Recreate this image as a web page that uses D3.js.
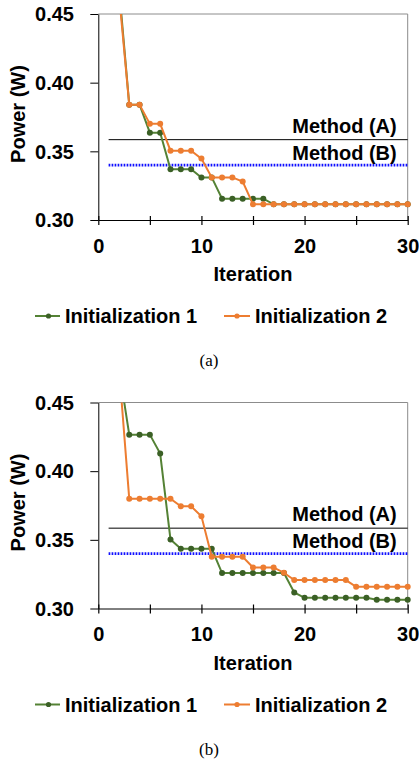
<!DOCTYPE html>
<html><head><meta charset="utf-8">
<script src="https://cdn.jsdelivr.net/npm/d3@7/dist/d3.min.js"></script>
<style>
html,body{margin:0;padding:0;background:#fff;}
svg{display:block;}
.bold{font-family:"Liberation Sans",Arial,Helvetica,sans-serif;font-weight:bold;fill:#000;}
</style></head>
<body>
<svg id="chart" width="419" height="761"></svg>
<script>
// ---- data ----
const iterations = [1,2,3,4,5,6,7,8,9,10,11,12,13,14,15,16,17,18,19,20,21,22,23,24,25,26,27,28,29,30];
const yTicks = [0.30, 0.35, 0.40, 0.45];
const xTicks = [0, 5, 10, 15, 20, 25, 30];
const xTickLabels = [0, 10, 20, 30];
const seriesNames = ["Initialization 1", "Initialization 2"];
const methodNames = ["Method (A)", "Method (B)"];
const methodValues = [0.3585, 0.340];
const panelCaptions = ["(a)", "(b)"];

const aInit1 = [0.52,0.47,0.384,0.384,0.3636,0.3636,0.337,0.337,0.337,0.331,0.331,0.3155,0.3155,0.3155,0.3155,0.3155,
  0.3114,0.3114,0.3114,0.3114,0.3114,0.3114,0.3114,0.3114,0.3114,0.3114,0.3114,0.3114,0.3114,0.3114];
const aInit2 = [0.52,0.465,0.384,0.384,0.370,0.370,0.3505,0.3505,0.3505,0.3447,0.331,0.331,0.331,0.328,0.3114,0.3114,
  0.3114,0.3114,0.3114,0.3114,0.3114,0.3114,0.3114,0.3114,0.3114,0.3114,0.3114,0.3114,0.3114,0.3114];
const bInit1 = [0.52,0.475,0.4266,0.4266,0.4266,0.4128,0.3503,0.3435,0.3435,0.3435,0.3435,0.3258,0.3258,0.3258,0.3258,
  0.3258,0.3258,0.3258,0.3117,0.3078,0.3078,0.3078,0.3078,0.3078,0.3078,0.3078,0.3063,0.3063,0.3063,0.3063];
const bInit2 = [0.52,0.476,0.380,0.380,0.380,0.380,0.380,0.3744,0.3744,0.3671,0.3377,0.3377,0.3377,0.3377,0.3299,
  0.3299,0.3299,0.326,0.3207,0.3207,0.3207,0.3207,0.3207,0.3207,0.3158,0.3158,0.3158,0.3158,0.3158,0.3158];

const lineColors = ["#548235", "#ED7D31"];
const dotColors = ["#3B6026", "#ED7D31"];

// ---- layout ----
const svg = d3.select("#chart");
const x = d3.scaleLinear().domain([0, 30]).range([98.3, 407.7]);
const y = d3.scaleLinear().domain([0.30, 0.45]).range([220, 14]);
const font = "20px";

svg.append("defs").append("clipPath").attr("id", "clip")
  .append("rect").attr("x", 0).attr("y", 14).attr("width", 419).attr("height", 220);

function drawPanel(offset, s1, s2, caption) {
  const g = svg.append("g").attr("transform", `translate(0,${offset})`);

  // grey frame (top and right)
  g.append("path")
    .attr("d", `M${x(0)},${y(0.45)}H${x(30)}V${y(0.30)}`)
    .attr("fill", "none").attr("stroke", "#8c8c8c").attr("stroke-width", 1);

  // method reference lines
  g.append("line")
    .attr("x1", x(1)).attr("x2", x(30))
    .attr("y1", y(methodValues[0])).attr("y2", y(methodValues[0]))
    .attr("stroke", "#000").attr("stroke-width", 1);
  g.append("line")
    .attr("x1", x(1)).attr("x2", x(30))
    .attr("y1", y(methodValues[1])).attr("y2", y(methodValues[1]))
    .attr("stroke", "#1010ff").attr("stroke-width", 2.8)
    .attr("stroke-dasharray", "1.7,1.3");

  // method labels
  g.append("text").attr("class", "bold").style("font-size", font)
    .attr("x", 396.7).attr("y", y(methodValues[0]) - 7)
    .attr("text-anchor", "end").text(methodNames[0]);
  g.append("text").attr("class", "bold").style("font-size", font)
    .attr("x", 396.7).attr("y", y(methodValues[1]) - 5.5)
    .attr("text-anchor", "end").text(methodNames[1]);

  // series
  const line = d3.line().x((d, i) => x(iterations[i])).y(d => y(d));
  const plot = g.append("g").attr("clip-path", "url(#clip)");
  [s1, s2].forEach((s, k) => {
    plot.append("path").datum(s)
      .attr("d", line).attr("fill", "none")
      .attr("stroke", lineColors[k]).attr("stroke-width", 2);
    plot.selectAll(null).data(s).enter().append("circle")
      .attr("cx", (d, i) => x(iterations[i])).attr("cy", d => y(d))
      .attr("r", 3).attr("fill", dotColors[k]);
  });

  // y axis
  const ya = g.append("g").attr("transform", `translate(${x(0)},0)`)
    .call(d3.axisLeft(y).tickValues(yTicks).tickFormat(d3.format(".2f"))
      .tickSize(8).tickSizeOuter(0).tickPadding(16.3));
  ya.selectAll("text").attr("class", "bold").style("font-size", font)
    .attr("font-family", null).attr("dy", "0.34em");
  ya.selectAll("line,path").attr("stroke", "#000");

  // x axis
  const xa = g.append("g").attr("transform", `translate(0,${y(0.30)})`)
    .call(d3.axisBottom(x).tickValues(xTicks)
      .tickFormat(d => xTickLabels.includes(d) ? d3.format("d")(d) : "")
      .tickSize(5).tickSizeOuter(0).tickPadding(13.5));
  xa.selectAll(".tick line").attr("y1", -4).attr("y2", 5).attr("stroke-width", 1.2);
  xa.selectAll("text").attr("class", "bold").style("font-size", font).attr("font-family", null);
  xa.selectAll("line,path").attr("stroke", "#000");

  // axis titles
  g.append("text").attr("class", "bold").style("font-size", "20px")
    .attr("text-anchor", "middle")
    .attr("transform", `translate(25,114) rotate(-90)`).text("Power (W)");
  g.append("text").attr("class", "bold").style("font-size", "20px")
    .attr("text-anchor", "middle")
    .attr("x", (x(0) + x(30)) / 2).attr("y", 281).text("Iteration");

  // legend
  const legX = [[35, 60, 48.5, 65], [224, 250, 237, 255]];
  legX.forEach((p, k) => {
    g.append("line").attr("x1", p[0]).attr("x2", p[1]).attr("y1", 316).attr("y2", 316)
      .attr("stroke", lineColors[k]).attr("stroke-width", 2);
    g.append("circle").attr("cx", p[2]).attr("cy", 316).attr("r", 2.6).attr("fill", dotColors[k]);
    g.append("text").attr("class", "bold").style("font-size", "20px")
      .attr("x", p[3]).attr("y", 323).text(seriesNames[k]);
  });

  // caption
  g.append("text")
    .attr("x", 209).attr("y", 366).attr("text-anchor", "middle")
    .style("font-family", "'Liberation Serif','Times New Roman',serif")
    .style("font-size", "17px").attr("fill", "#000").text(caption);
}

drawPanel(0, aInit1, aInit2, panelCaptions[0]);
drawPanel(388.5, bInit1, bInit2, panelCaptions[1]);
</script>
</body></html>
